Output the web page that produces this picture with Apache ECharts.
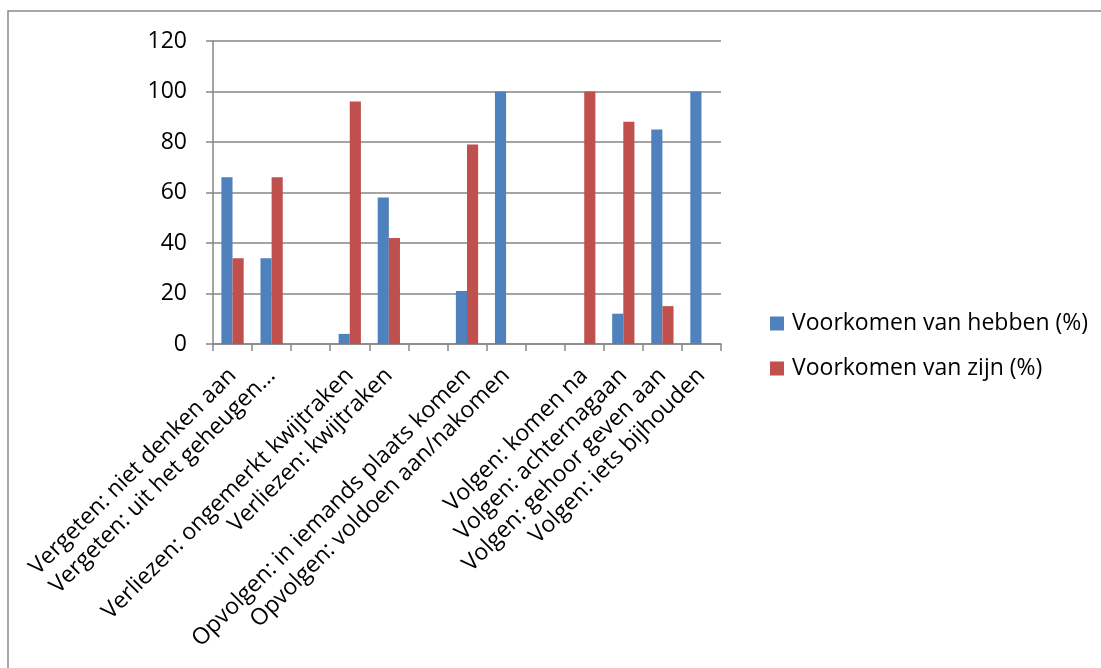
<!DOCTYPE html>
<html>
<head>
<meta charset="utf-8">
<script src="https://cdn.jsdelivr.net/npm/echarts@6/dist/echarts.min.js"></script>
<style>
html,body{margin:0;padding:0;background:#fff;}
#c{width:1101px;height:668px;}
</style>
</head>
<body>
<div id="c"></div>
<script>
const categories = [
  'Vergeten: niet denken aan',
  'Vergeten: uit het geheugen...',
  ' ',
  'Verliezen: ongemerkt kwijtraken',
  'Verliezen: kwijtraken',
  '  ',
  'Opvolgen: in iemands plaats komen',
  'Opvolgen: voldoen aan/nakomen',
  '   ',
  'Volgen: komen na',
  'Volgen: achternagaan',
  'Volgen: gehoor geven aan',
  'Volgen: iets bijhouden'
];
const hebben = [66, 34, null, 4, 58, null, 21, 100, null, null, 12, 85, 100];
const zijn = [34, 66, null, 96, 42, null, 79, null, null, 100, 88, 15, null];
const yTicks = { min: 0, max: 120, interval: 20 };
const seriesNames = ['Voorkomen van hebben (%)', 'Voorkomen van zijn (%)'];

const FONT = 'Open Sans';
const FS = 23;
const chart = echarts.init(document.getElementById('c'));
chart.setOption({
  animation: false,
  textStyle: { fontFamily: FONT },
  graphic: [{
    type: 'rect',
    shape: { x: 8, y: 11, width: 1200, height: 800 },
    style: { fill: 'none', stroke: '#8a8a8a', lineWidth: 1.5 },
    silent: true
  }],
  grid: { left: 213, right: 380, top: 41, bottom: 324 },
  legend: {
    orient: 'vertical',
    left: 765,
    top: 307,
    itemWidth: 14,
    itemHeight: 14,
    itemGap: 22,
    icon: 'rect',
    textStyle: { fontFamily: FONT, fontSize: FS, color: '#000', padding: [0, 0, 0, 3] },
    data: seriesNames
  },
  xAxis: {
    type: 'category',
    data: categories,
    axisLine: { lineStyle: { color: '#868686', width: 1.5 } },
    axisTick: { show: true, length: 7, lineStyle: { color: '#868686', width: 1.5 } },
    axisLabel: { interval: 0, rotate: 45, fontSize: FS, color: '#000', margin: 28, fontFamily: FONT }
  },
  yAxis: {
    type: 'value',
    min: yTicks.min,
    max: yTicks.max,
    interval: yTicks.interval,
    axisLine: { show: true, lineStyle: { color: '#868686', width: 1.5 } },
    axisTick: { show: true, length: 7, lineStyle: { color: '#868686', width: 1.5 } },
    axisLabel: { fontSize: FS, color: '#000', margin: 26, fontFamily: FONT },
    splitLine: { lineStyle: { color: '#868686', width: 1.5 } }
  },
  series: [
    {
      name: seriesNames[0],
      type: 'bar',
      data: hebben,
      barGap: '0%',
      barCategoryGap: '43%',
      itemStyle: { color: '#4F81BD' }
    },
    {
      name: seriesNames[1],
      type: 'bar',
      data: zijn,
      barGap: '0%',
      barCategoryGap: '43%',
      itemStyle: { color: '#C0504D' }
    }
  ]
});
</script>
</body>
</html>
